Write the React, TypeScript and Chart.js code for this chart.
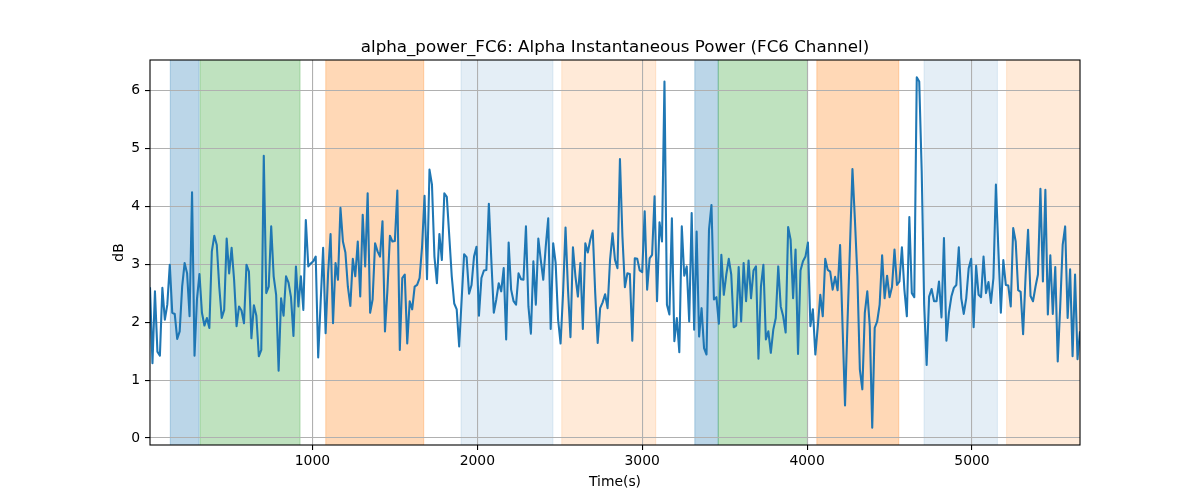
import { useEffect, useRef } from "react";
import { Chart, registerables } from "chart.js";

Chart.register(...registerables);
Chart.defaults.font.family = '"DejaVu Sans", sans-serif';

const CHART_TITLE = "alpha_power_FC6: Alpha Instantaneous Power (FC6 Channel)";
const X_LABEL = "Time(s)";
const Y_LABEL = "dB";

// sampling: one value every 15 s
const T_FIRST = 15;
const T_STEP = 15;

// alpha power (dB)
const POWER_DB = [
  2.6, 1.29, 2.53, 1.49, 1.42, 2.59, 2.04, 2.3, 2.99, 2.16,
  2.14, 1.71, 1.84, 2.61, 3.02, 2.84, 2.1, 4.24, 1.42, 2.4,
  2.83, 2.16, 1.94, 2.07, 1.9, 3.22, 3.49, 3.33, 2.61, 2.07,
  2.21, 3.44, 2.84, 3.28, 2.73, 1.93, 2.27, 2.2, 1.98, 2.99,
  2.87, 1.72, 2.29, 2.11, 1.41, 1.52, 4.87, 2.5, 2.61, 3.65,
  2.79, 2.47, 1.16, 2.41, 2.11, 2.79, 2.68, 2.43, 1.76, 2.96,
  2.27, 2.79, 2.21, 3.76,
  2.96, 3.01, 3.05, 3.13, 1.39, 2.35, 3.28, 1.81, 2.84, 3.52,
  1.98, 3.02, 2.73, 3.97, 3.39, 3.2, 2.61, 2.28, 3.09, 2.79,
  3.39, 2.44, 3.85, 2.96, 4.22, 2.16, 2.39, 3.36, 3.22, 3.13,
  3.74, 1.84, 2.56, 3.49, 3.39, 3.4, 4.27, 1.52, 2.76, 2.82,
  1.63, 2.36, 2.22, 2.61, 2.64, 2.76, 3.3, 4.18, 2.74, 4.63,
  4.37, 3.13, 2.67, 3.52, 3.07, 4.22, 4.16, 3.48, 2.79, 2.32,
  2.22, 1.58,
  2.39, 3.17, 3.12, 2.49, 2.64, 3.13, 3.3, 2.11, 2.76, 2.89,
  2.9, 4.04, 3.07, 2.16, 2.39, 2.67, 2.53, 2.93, 1.7, 3.37,
  2.56, 2.36, 2.3, 2.84, 2.74, 2.73, 3.65, 2.27, 1.8, 3.05,
  2.3, 3.44, 3.07, 2.73, 3.3, 3.79, 1.88, 3.36, 3.02, 2.04,
  1.63, 2.5, 3.63, 2.56, 1.74, 3.29, 2.79, 2.44, 3.02, 1.88,
  3.36, 3.2, 3.42, 3.58, 2.5, 1.64, 2.24, 2.34, 2.48, 2.24,
  3.07, 3.53, 3.07,
  2.93, 4.81, 3.48, 2.6, 2.84, 2.83, 1.68, 3.1, 3.09, 2.89,
  2.86, 3.91, 2.56, 3.1, 3.16, 4.17, 2.36, 3.72, 3.39, 6.15,
  2.3, 2.13, 3.79, 1.67, 2.07, 1.48, 3.65, 2.8, 2.96, 2.01,
  3.88, 1.87, 3.56, 1.75, 2.24, 1.55, 1.44, 3.59, 4.02, 2.39,
  2.43, 1.97, 3.16, 2.47, 2.82, 3.09, 2.82, 1.91, 1.94, 2.95,
  2.01, 3.02, 2.36, 3.06, 2.41, 2.89, 2.96, 1.37, 2.61, 2.99,
  1.7, 1.84, 1.47,
  1.87, 2.07, 2.96, 2.27, 2.1, 1.82, 3.64, 3.42, 2.41, 3.25,
  1.45, 2.89, 3.05, 3.13, 3.37, 1.93, 2.22, 1.44, 1.93, 2.47,
  2.1, 3.09, 2.9, 2.87, 2.56, 2.78, 2.55, 3.33, 1.93, 0.56,
  1.99, 3.3, 4.64, 3.76, 2.79, 1.18, 0.84, 2.16, 2.53, 1.93,
  0.18, 1.9, 2.01, 2.3, 3.15, 2.41, 2.8, 2.43, 2.61, 3.25,
  2.64, 2.7, 3.29, 2.56, 2.1, 3.81, 2.5, 2.43, 6.22, 6.15,
  4.6, 2.3,
  1.26, 2.44, 2.57, 2.36, 2.36, 2.7, 2.08, 3.45, 1.68, 2.16,
  2.44, 2.59, 2.64, 3.29, 2.41, 2.14, 2.41, 2.93, 3.09, 1.91,
  2.97, 2.47, 2.43, 3.13, 2.5, 2.69, 2.33, 2.76, 4.37, 3.25,
  2.16, 3.07, 2.64, 2.63, 2.27, 3.62, 3.39, 2.55, 2.52, 1.79,
  2.79, 3.59, 2.45, 2.36, 2.61, 2.82, 4.3, 2.7, 4.28, 2.13,
  3.15, 2.14, 2.95, 1.32, 2.27, 3.33, 3.65, 2.07, 2.91, 1.41,
  2.82, 1.36, 1.84,
];

const TIMES = POWER_DB.map((_, i) => T_FIRST + i * T_STEP);

const X_TICKS = [1000, 2000, 3000, 4000, 5000];
const Y_TICKS = [0, 1, 2, 3, 4, 5, 6];
const Y_MIN = -0.12;
const Y_MAX = 6.52;

// shaded segments (s); kind selects the fill
const BAND_START = [138, 319, 1081, 1901, 2512, 3319, 3461, 4059, 4709, 5210];
const BAND_END = [313, 925, 1675, 2459, 3082, 3461, 4002, 4556, 5154, 5700];
const BAND_KIND = [0, 1, 2, 3, 4, 0, 1, 2, 3, 4];

const BAND_FILL = [
  "rgba(31,119,180,0.3)",
  "rgba(44,160,44,0.3)",
  "rgba(255,127,14,0.3)",
  "rgba(31,119,180,0.12)",
  "rgba(255,127,14,0.16)",
];

const decor = {
  id: "decor",
  beforeDraw(chart: any) {
    const { ctx, chartArea: a, scales } = chart;
    const xs = scales.x;
    ctx.save();
    ctx.beginPath();
    ctx.rect(a.left, a.top, a.right - a.left, a.bottom - a.top);
    ctx.clip();
    BAND_START.forEach((s, i) => {
      const x0 = xs.getPixelForValue(s);
      const x1 = xs.getPixelForValue(BAND_END[i]);
      const c = BAND_FILL[BAND_KIND[i]];
      ctx.fillStyle = c;
      ctx.fillRect(x0, a.top, x1 - x0, a.bottom - a.top);
      ctx.strokeStyle = c;
      ctx.lineWidth = 1;
      ctx.beginPath();
      ctx.moveTo(x0, a.top);
      ctx.lineTo(x0, a.bottom);
      ctx.moveTo(x1, a.top);
      ctx.lineTo(x1, a.bottom);
      ctx.stroke();
    });
    ctx.restore();
  },
  afterDraw(chart: any) {
    const { ctx, chartArea: a } = chart;
    ctx.save();
    ctx.strokeStyle = "#000";
    ctx.lineWidth = 1.1;
    ctx.strokeRect(a.left, a.top, a.right - a.left, a.bottom - a.top);

    const cx = (a.left + a.right) / 2;
    ctx.fillStyle = "#000";
    ctx.textAlign = "center";
    ctx.textBaseline = "alphabetic";
    ctx.font = '16.7px "DejaVu Sans"';
    ctx.fillText(CHART_TITLE, cx, 52);

    ctx.font = '13.9px "DejaVu Sans"';
    ctx.fillText(X_LABEL, cx, 486);

    ctx.translate(123, (a.top + a.bottom) / 2);
    ctx.rotate(-Math.PI / 2);
    ctx.fillText(Y_LABEL, 0, 0);
    ctx.restore();
  },
};

const gridStyle = {
  color: "#b0b0b0",
  lineWidth: 1.1,
  tickColor: "#000",
  tickLength: 5,
  tickWidth: 1.1,
};

export default function App() {
  const canvasRef = useRef<HTMLCanvasElement | null>(null);

  useEffect(() => {
    document.body.style.margin = "0";
    if (!canvasRef.current) return;

    const chart = new Chart(canvasRef.current, {
      type: "line",
      data: {
        datasets: [
          {
            data: TIMES.map((t, i) => ({ x: t, y: POWER_DB[i] })),
            borderColor: "#1f77b4",
            borderWidth: 2.08,
            borderJoinStyle: "round",
            pointRadius: 0,
            tension: 0,
            fill: false,
          },
        ],
      },
      options: {
        responsive: false,
        animation: false,
        events: [],
        layout: { padding: { top: 60, right: 120, left: 0, bottom: 0 } },
        plugins: {
          legend: { display: false },
          title: { display: false },
          tooltip: { enabled: false },
        },
        scales: {
          x: {
            type: "linear",
            min: TIMES[0],
            max: TIMES[TIMES.length - 1],
            afterBuildTicks: (s: any) => {
              s.ticks = X_TICKS.map((v) => ({ value: v }));
            },
            afterFit: (s: any) => {
              s.height = 55;
            },
            grid: gridStyle,
            border: { display: false },
            ticks: {
              color: "#000",
              font: { size: 13.9 },
              padding: 3,
              maxRotation: 0,
              autoSkip: false,
              callback: (v: any) => String(v),
            },
          },
          y: {
            type: "linear",
            min: Y_MIN,
            max: Y_MAX,
            afterBuildTicks: (s: any) => {
              s.ticks = Y_TICKS.map((v) => ({ value: v }));
            },
            afterFit: (s: any) => {
              s.width = 150;
            },
            grid: gridStyle,
            border: { display: false },
            ticks: {
              color: "#000",
              font: { size: 13.9 },
              padding: 5,
              autoSkip: false,
              callback: (v: any) => String(v),
            },
          },
        },
      },
      plugins: [decor],
    });

    return () => chart.destroy();
  }, []);

  return (
    <div style={{ width: 1200, height: 500 }}>
      <canvas ref={canvasRef} width={1200} height={500}></canvas>
    </div>
  );
}
